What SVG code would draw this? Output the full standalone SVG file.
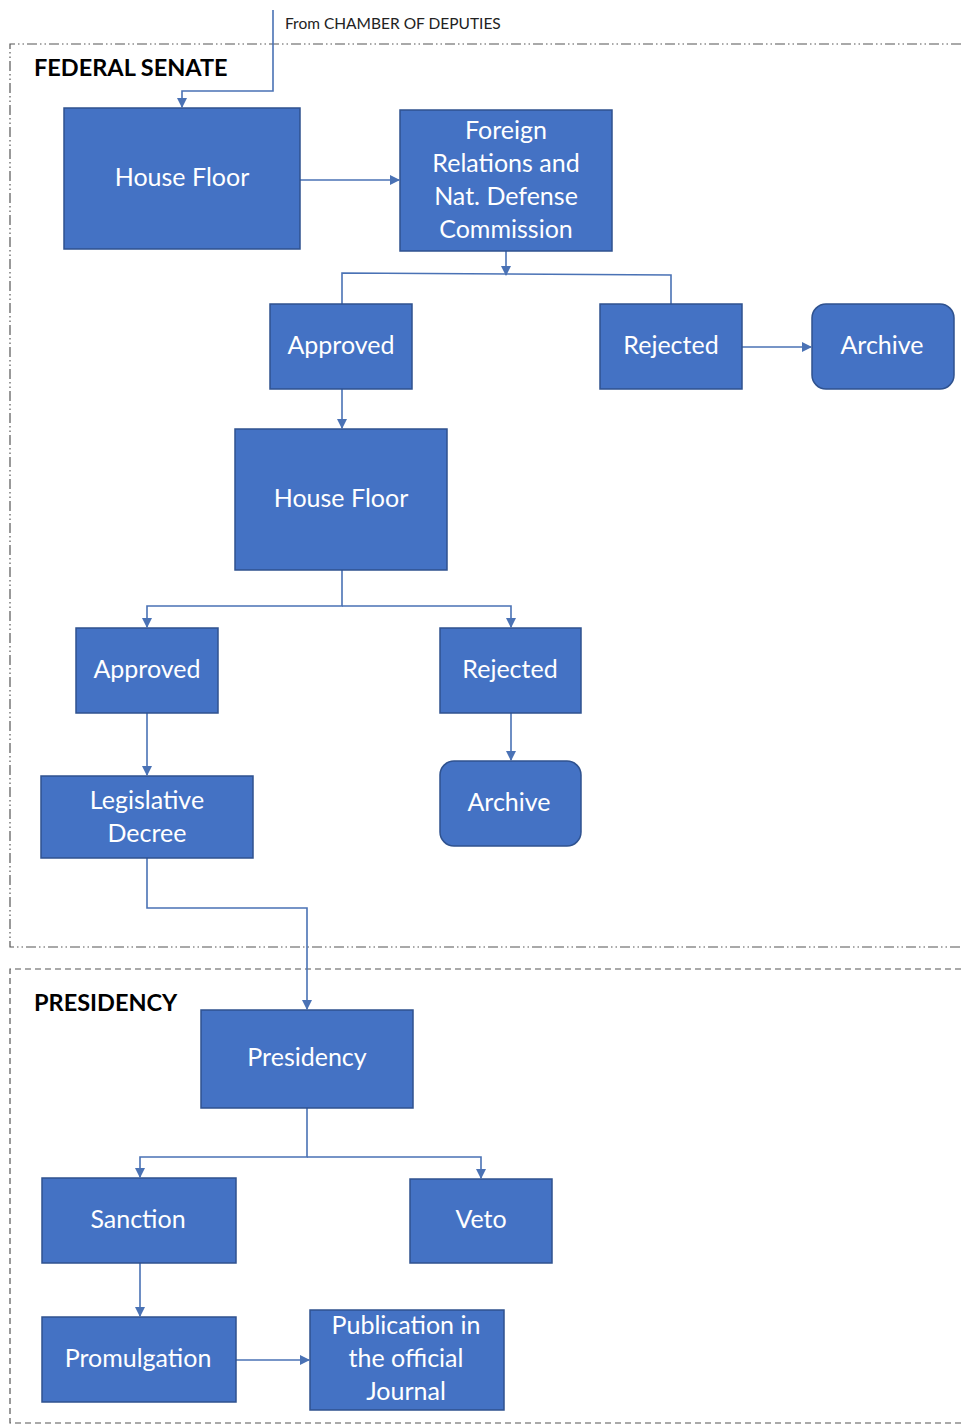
<svg xmlns="http://www.w3.org/2000/svg" width="961" height="1425" viewBox="0 0 961 1425">
<style>
.n{fill:#4472C4;stroke:#2F528F;stroke-width:1.5}
.t{fill:#fff;font-family:Lato,"Liberation Sans",sans-serif;font-size:25px;text-anchor:middle;dominant-baseline:central}
.c{fill:none;stroke:#4a72b5;stroke-width:1.6}
.h{fill:#000;font-family:Lato,"Liberation Sans",sans-serif;font-size:23.5px;font-weight:bold}
</style>
<defs>
<marker id="a" viewBox="0 0 10 10" refX="9" refY="5" markerWidth="10" markerHeight="10" markerUnits="userSpaceOnUse" orient="auto"><path d="M0,0L10,5L0,10z" fill="#4a72b5"/></marker>
</defs>
<rect width="961" height="1425" fill="#fff"/>
<g id="senate-frame">
<path d="M961,44H10V947H961" fill="none" stroke="#555" stroke-width="1.2" stroke-dasharray="10,3,1.5,3,1.5,3"/>
<text class="h" x="34" y="76">FEDERAL SENATE</text>
</g>
<g id="presidency-frame">
<path d="M961,969H10V1423H961" fill="none" stroke="#555" stroke-width="1.2" stroke-dasharray="6,4"/>
<text class="h" x="34" y="1011">PRESIDENCY</text>
</g>
<text x="285" y="29" font-family="Lato,'Liberation Sans',sans-serif" font-size="15.5" fill="#222">From CHAMBER OF DEPUTIES</text>
<g id="connectors">
<path class="c" d="M273,10V91H182V107" marker-end="url(#a)"/>
<path class="c" d="M300,180H399" marker-end="url(#a)"/>
<path class="c" d="M506,251V275" marker-end="url(#a)"/>
<path class="c" d="M342,304V273L671,275V304"/>
<path class="c" d="M742,347H811" marker-end="url(#a)"/>
<path class="c" d="M342,389V428" marker-end="url(#a)"/>
<path class="c" d="M342,570V606H147V627" marker-end="url(#a)"/>
<path class="c" d="M342,606H511V627" marker-end="url(#a)"/>
<path class="c" d="M147,713V775" marker-end="url(#a)"/>
<path class="c" d="M511,713V760" marker-end="url(#a)"/>
<path class="c" d="M147,858V908H307V1009" marker-end="url(#a)"/>
<path class="c" d="M307,1108V1157H140V1177" marker-end="url(#a)"/>
<path class="c" d="M307,1157H481V1178" marker-end="url(#a)"/>
<path class="c" d="M140,1263V1316" marker-end="url(#a)"/>
<path class="c" d="M236,1360H309" marker-end="url(#a)"/>
</g>
<g id="house-floor-1"><rect class="n" x="64" y="108" width="236" height="141"/><text class="t" x="182" y="176">House Floor</text></g>
<g id="foreign-relations"><rect class="n" x="400" y="110" width="212" height="141"/><text class="t" x="506" y="129">Foreign</text><text class="t" x="506" y="162">Relations and</text><text class="t" x="506" y="195">Nat. Defense</text><text class="t" x="506" y="228">Commission</text></g>
<g id="approved-1"><rect class="n" x="270" y="304" width="142" height="85"/><text class="t" x="341" y="344">Approved</text></g>
<g id="rejected-1"><rect class="n" x="600" y="304" width="142" height="85"/><text class="t" x="671" y="344">Rejected</text></g>
<g id="archive-1"><rect class="n" x="812" y="304" width="142" height="85" rx="14"/><text class="t" x="882" y="344">Archive</text></g>
<g id="house-floor-2"><rect class="n" x="235" y="429" width="212" height="141"/><text class="t" x="341" y="497">House Floor</text></g>
<g id="approved-2"><rect class="n" x="76" y="628" width="142" height="85"/><text class="t" x="147" y="668">Approved</text></g>
<g id="rejected-2"><rect class="n" x="440" y="628" width="141" height="85"/><text class="t" x="510" y="668">Rejected</text></g>
<g id="archive-2"><rect class="n" x="440" y="761" width="141" height="85" rx="14"/><text class="t" x="509" y="801">Archive</text></g>
<g id="legislative-decree"><rect class="n" x="41" y="776" width="212" height="82"/><text class="t" x="147" y="799">Legislative</text><text class="t" x="147" y="832">Decree</text></g>
<g id="presidency"><rect class="n" x="201" y="1010" width="212" height="98"/><text class="t" x="307" y="1056">Presidency</text></g>
<g id="sanction"><rect class="n" x="42" y="1178" width="194" height="85"/><text class="t" x="138" y="1218">Sanction</text></g>
<g id="veto"><rect class="n" x="410" y="1179" width="142" height="84"/><text class="t" x="481" y="1218">Veto</text></g>
<g id="promulgation"><rect class="n" x="42" y="1317" width="194" height="85"/><text class="t" x="138" y="1357">Promulgation</text></g>
<g id="publication"><rect class="n" x="310" y="1310" width="194" height="100"/><text class="t" x="406" y="1324">Publication in</text><text class="t" x="406" y="1357">the official</text><text class="t" x="406" y="1390">Journal</text></g>
</svg>
